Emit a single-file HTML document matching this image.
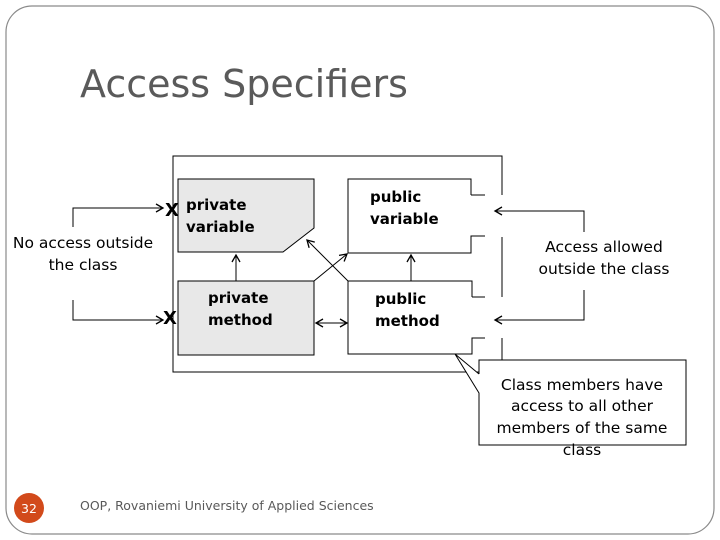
<!DOCTYPE html>
<html><head><style>body{margin:0;background:#fff}svg{display:block}</style></head><body>
<svg width="720" height="540" xmlns="http://www.w3.org/2000/svg" font-family="DejaVu Sans, sans-serif">
<defs><marker id="a" markerWidth="10" markerHeight="10" refX="8" refY="5" orient="auto" markerUnits="userSpaceOnUse"><path d="M1,1 L8,5 L1,9" fill="none" stroke="#000" stroke-width="1.3"/></marker></defs>
<rect x="6" y="6" width="708" height="528" rx="26" fill="#fff" stroke="#8a8a8a" stroke-width="1.2"/>
<text x="80" y="97" font-size="38" fill="#5a5a5a">Access Specifiers</text>
<g stroke="#000" stroke-width="1" fill="none">
<path d="M502,195 V156 H173 V372 H502 V338 M502,237 V297"/>
<path d="M178,179 H314 V228 L283,252 H178 Z" fill="#e8e8e8"/>
<path d="M471,195 V179 H348 V253 H471 V236 H485 M471,195 H485"/>
<rect x="178" y="281" width="136" height="74" fill="#e8e8e8"/>
<path d="M472,297 V281 H348 V354 H472 V338 H485 M472,297 H485"/>
<path d="M236,281 V255" marker-end="url(#a)"/>
<path d="M411,281 V255" marker-end="url(#a)"/>
<path d="M348,281 L307,240" marker-end="url(#a)"/>
<path d="M314,281 L347,254" marker-end="url(#a)"/>
<path d="M330,323 H347" marker-end="url(#a)"/>
<path d="M330,323 H316" marker-end="url(#a)"/>
<path d="M73,227 V208 H163" marker-end="url(#a)"/>
<path d="M73,300 V320 H163" marker-end="url(#a)"/>
<path d="M584,232 V211 H495" marker-end="url(#a)"/>
<path d="M584,290 V320 H495" marker-end="url(#a)"/>
<path d="M479,374 V360 H686 V445 H479 V393 L455,354 L479,374" fill="#fff"/>
</g>
<g font-weight="bold" font-size="15" fill="#000">
<text x="165" y="216" font-size="18">X</text><text x="163" y="324" font-size="18">X</text>
<text x="186" y="210">private</text><text x="186" y="232">variable</text>
<text x="370" y="202">public</text><text x="370" y="224">variable</text>
<text x="208" y="303">private</text><text x="208" y="325">method</text>
<text x="375" y="304">public</text><text x="375" y="326">method</text>
</g>
<g font-size="15.5" fill="#000" text-anchor="middle">
<text x="83" y="248">No access outside</text><text x="83" y="270">the class</text>
<text x="604" y="252">Access allowed</text><text x="604" y="274">outside the class</text>
<text x="582" y="390">Class members have</text><text x="582" y="411">access to all other</text>
<text x="582" y="433">members of the same</text><text x="582" y="455">class</text>
</g>
<circle cx="29" cy="508" r="15" fill="#d24a1b"/>
<text x="29" y="513" font-size="12.5" fill="#fff" text-anchor="middle">32</text>
<text x="80" y="510" font-size="12.5" fill="#595959">OOP, Rovaniemi University of Applied Sciences</text>
</svg>
</body></html>
